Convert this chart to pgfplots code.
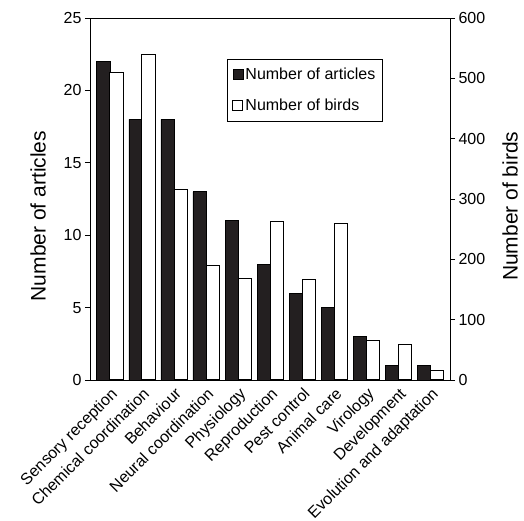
\documentclass[border=0pt]{standalone}
\usepackage{fontspec}
\setmainfont{Liberation Sans}
\usepackage{pgfplots}
\pgfplotsset{compat=1.18}
\definecolor{barblack}{HTML}{231F20}
\begin{document}
\begin{tikzpicture}
\pgfplotsset{
  common/.style={
    width=360pt, height=362pt, scale only axis,
    xmin=-0.62, xmax=10.6,
    tick align=outside,
    major tick length=5pt,
    every tick/.style={black, line width=0.8pt},
    axis line style={line width=0.8pt},
    /pgf/number format/assume math mode=true,
    ticklabel style={font=\fontsize{16}{19}\selectfont},
    label style={font=\fontsize{21}{25}\selectfont},
  }
}
\begin{axis}[common, name=ax,
  ymin=0, ymax=25, ytick={0,5,...,25},
  ytick pos=left,
  xtick={0,...,10},
  major x tick style={draw=none},
  xticklabels={Sensory reception,Chemical coordination,Behaviour,Neural coordination,Physiology,Reproduction,Pest control,Animal care,Virology,Development,Evolution and adaptation},
  xticklabel style={rotate=45, anchor=north east, font=\fontsize{16}{19}\selectfont, inner sep=1pt},
  ylabel={Number of articles},
  ylabel style={at={(rel axis cs:0,0.453)}, anchor=center, yshift=52pt},
]
\addplot[ybar, bar width=0.41, bar shift=-0.205, fill=barblack, draw=black, line width=0.6pt]
coordinates {(0,22) (1,18) (2,18) (3,13) (4,11) (5,8) (6,6) (7,5) (8,3) (9,1) (10,1)};
\end{axis}
\begin{axis}[common,
  ymin=0, ymax=600, ytick={0,100,...,600},
  axis y line*=right, axis x line=none,
  ylabel={Number of birds},
  ylabel style={at={(rel axis cs:1,0.48)}, anchor=center, yshift=-60pt},
  legend style={at={(rel axis cs:0.381,0.887)}, anchor=north west, draw=black, line width=0.6pt,
    font=\fontsize{16}{19}\selectfont, row sep=14pt, inner xsep=5pt, inner ysep=7pt},
  legend cell align=left,
  legend image code/.code={\draw[#1] (0pt,-5pt) rectangle (10pt,5pt);},
]
\addlegendimage{fill=barblack, draw=black, line width=0.6pt}
\addlegendentry{Number of articles}
\addplot[ybar, bar width=0.41, bar shift=0.205, fill=white, draw=black, line width=1pt]
coordinates {(0,510) (1,540) (2,316) (3,190) (4,169) (5,263) (6,167) (7,259) (8,65) (9,59) (10,15)};
\addlegendentry{Number of birds}
\end{axis}
\pgfresetboundingbox
\path (ax.south west) ++(-90pt,-141pt) coordinate (bbl);
\path (ax.north east) ++(74pt,18pt) coordinate (bbr);
\useasboundingbox (bbl) rectangle (bbr);
\end{tikzpicture}
\end{document}
